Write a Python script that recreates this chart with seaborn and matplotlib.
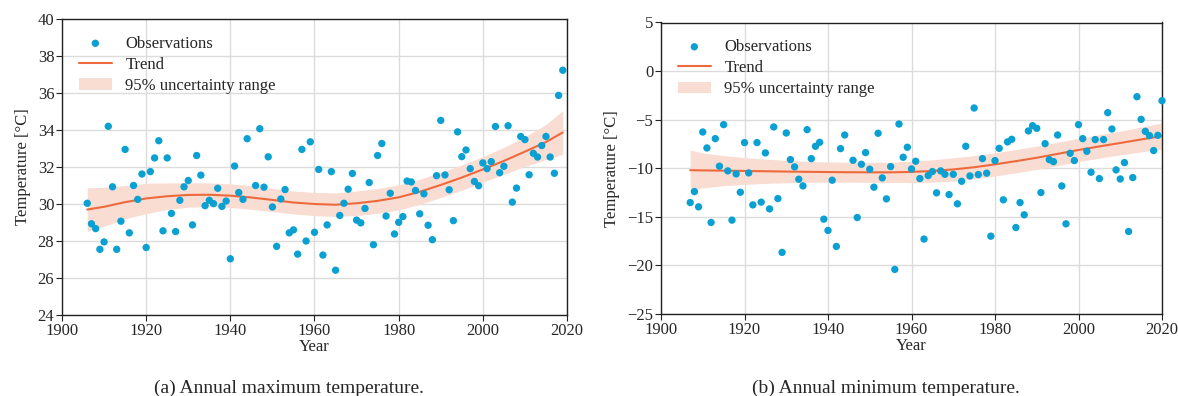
import numpy as np
import pandas as pd
import matplotlib
matplotlib.use("Agg")
import matplotlib.pyplot as plt
import seaborn as sns

# ---------------- data ----------------
years_max = [1906, 1907, 1908, 1909, 1910, 1911, 1912, 1913, 1914, 1915, 1916, 1917, 1918, 1919,
             1920, 1921, 1922, 1923, 1924, 1925, 1926, 1927, 1928, 1929, 1930, 1931, 1932, 1933,
             1934, 1935, 1936, 1937, 1938, 1939, 1940, 1941, 1942, 1943, 1944, 1946, 1947, 1948,
             1949, 1950, 1951, 1952, 1953, 1954, 1955, 1956, 1957, 1958, 1959, 1960, 1961, 1962,
             1963, 1964, 1965, 1966, 1967, 1968, 1969, 1970, 1971, 1972, 1973, 1974, 1975, 1976,
             1977, 1978, 1979, 1980, 1981, 1982, 1983, 1984, 1985, 1986, 1987, 1988, 1989, 1990,
             1991, 1992, 1993, 1994, 1995, 1996, 1997, 1998, 1999, 2000, 2001, 2002, 2003, 2004,
             2005, 2006, 2007, 2008, 2009, 2010, 2011, 2012, 2013, 2014, 2015, 2016, 2017, 2018,
             2019]
tmax = [30.04, 28.93, 28.67, 27.55, 27.95, 34.20, 30.93, 27.55, 29.07, 32.95, 28.44, 31.00, 30.25, 31.62,
        27.65, 31.75, 32.49, 33.42, 28.55, 32.49, 29.49, 28.51, 30.20, 30.93, 31.27, 28.87, 32.62, 31.56,
        29.91, 30.20, 30.02, 30.85, 29.87, 30.16, 27.04, 32.05, 30.62, 30.25, 33.53, 31.00, 34.07, 30.91,
        32.55, 29.84, 27.71, 30.27, 30.78, 28.44, 28.60, 27.29, 32.95, 28.00, 33.36, 28.47, 31.87, 27.24,
        28.87, 31.75, 26.42, 29.38, 30.04, 30.80, 31.65, 29.13, 28.98, 29.76, 31.16, 27.80, 32.62, 33.27,
        29.35, 30.58, 28.38, 29.01, 29.32, 31.24, 31.19, 30.73, 29.47, 30.55, 28.85, 28.07, 31.53, 34.52,
        31.57, 30.77, 29.10, 33.90, 32.56, 32.92, 31.91, 31.22, 30.99, 32.22, 31.91, 32.29, 34.19, 31.69,
        32.04, 34.23, 30.10, 30.86, 33.65, 33.48, 31.58, 32.74, 32.54, 33.16, 33.65, 32.54, 31.66, 35.87,
        37.23]

trend_years_max = [1906, 1910, 1915, 1920, 1925, 1930, 1935, 1940, 1945, 1950, 1955, 1960,
                   1965, 1970, 1975, 1980, 1985, 1990, 1995, 2000, 2005, 2010, 2015, 2019]
trend_max = [29.70, 29.85, 30.10, 30.30, 30.42, 30.49, 30.50, 30.45, 30.35, 30.22, 30.08, 30.00,
             29.96, 30.04, 30.17, 30.36, 30.66, 31.03, 31.43, 31.87, 32.33, 32.83, 33.35, 33.87]
lower_max = [28.52, 28.80, 29.20, 29.48, 29.70, 29.83, 29.86, 29.81, 29.71, 29.59, 29.46, 29.37,
             29.32, 29.38, 29.50, 29.68, 29.98, 30.35, 30.75, 31.18, 31.60, 32.03, 32.40, 32.69]
upper_max = [30.88, 30.90, 31.00, 31.12, 31.14, 31.15, 31.14, 31.09, 30.99, 30.85, 30.70, 30.63,
             30.60, 30.70, 30.84, 31.04, 31.34, 31.71, 32.11, 32.56, 33.06, 33.63, 34.30, 35.05]

years_min = [1907, 1908, 1909, 1910, 1911, 1912, 1913, 1914, 1915, 1916, 1917, 1918, 1919, 1920,
             1921, 1922, 1923, 1924, 1925, 1926, 1927, 1928, 1929, 1930, 1931, 1932, 1933, 1934,
             1935, 1936, 1937, 1938, 1939, 1940, 1941, 1942, 1943, 1944, 1946, 1947, 1948, 1949,
             1950, 1951, 1952, 1953, 1954, 1955, 1956, 1957, 1958, 1959, 1960, 1961, 1962, 1963,
             1964, 1965, 1966, 1967, 1968, 1969, 1970, 1971, 1972, 1973, 1974, 1975, 1976, 1977,
             1978, 1979, 1980, 1981, 1982, 1983, 1984, 1985, 1986, 1987, 1988, 1989, 1990, 1991,
             1992, 1993, 1994, 1995, 1996, 1997, 1998, 1999, 2000, 2001, 2002, 2003, 2004, 2005,
             2006, 2007, 2008, 2009, 2010, 2011, 2012, 2013, 2014, 2015, 2016, 2017, 2018, 2019,
             2020]
tmin = [-13.53, -12.40, -13.97, -6.27, -7.91, -15.58, -6.95, -9.79, -5.51, -10.27, -15.34, -10.58, -12.47, -7.36,
        -10.48, -13.77, -7.36, -13.49, -8.42, -14.18, -5.75, -13.12, -18.66, -6.37, -9.11, -9.86, -11.13, -11.82,
        -6.03, -9.01, -7.74, -7.33, -15.24, -16.40, -11.23, -18.05, -7.98, -6.58, -9.18, -15.07, -9.59, -8.39,
        -10.10, -11.95, -6.40, -10.99, -13.15, -9.83, -20.41, -5.45, -8.87, -7.84, -10.07, -9.28, -11.06, -17.29,
        -10.75, -10.34, -12.53, -10.27, -10.62, -12.71, -10.62, -13.66, -11.34, -7.74, -10.79, -3.80, -10.65, -9.01,
        -10.51, -16.99, -9.21, -7.95, -13.25, -7.29, -7.02, -16.10, -13.53, -14.79, -6.16, -5.62, -5.89, -12.50,
        -7.47, -9.11, -9.32, -6.58, -11.82, -15.72, -8.46, -9.21, -5.51, -6.95, -8.25, -10.41, -7.05, -11.06,
        -7.05, -4.28, -5.96, -10.17, -11.10, -9.42, -16.51, -10.96, -2.64, -4.97, -6.20, -6.64, -8.18, -6.61,
        -3.05]

trend_years_min = [1907, 1910, 1915, 1920, 1925, 1930, 1935, 1940, 1945, 1950, 1955, 1960,
                   1965, 1970, 1975, 1980, 1985, 1990, 1995, 2000, 2005, 2010, 2015, 2020]
trend_min = [-10.20, -10.22, -10.25, -10.28, -10.31, -10.34, -10.37, -10.39, -10.41, -10.42, -10.42, -10.38,
             -10.28, -10.12, -9.90, -9.60, -9.27, -8.92, -8.52, -8.12, -7.75, -7.40, -7.04, -6.68]
lower_min = [-12.27, -12.02, -11.80, -11.66, -11.56, -11.49, -11.45, -11.43, -11.44, -11.45, -11.46, -11.48,
             -11.43, -11.32, -11.10, -10.80, -10.47, -10.12, -9.72, -9.32, -8.96, -8.62, -8.32, -8.03]
upper_min = [-8.13, -8.42, -8.70, -8.90, -9.06, -9.19, -9.29, -9.35, -9.38, -9.39, -9.38, -9.28,
             -9.13, -8.92, -8.70, -8.40, -8.07, -7.72, -7.32, -6.92, -6.54, -6.18, -5.76, -5.33]

x_ticks = [1900, 1920, 1940, 1960, 1980, 2000, 2020]
y_ticks_max = [24, 26, 28, 30, 32, 34, 36, 38, 40]
y_ticks_min = [-25, -20, -15, -10, -5, 0, 5]

# ---------------- style ----------------
sns.set_theme(style="ticks")
plt.rcParams["font.family"] = ["Liberation Serif", "DejaVu Serif"]
plt.rcParams["font.size"] = 12
plt.rcParams["mathtext.fontset"] = "dejavuserif"

DOT = "#0aa0d2"
LINE = "#ee6a3c"
BAND = "#f9ddd3"

fig = plt.figure(figsize=(11.78, 3.96), dpi=100)
ax1 = fig.add_axes([62 / 1178, 1 - 315 / 396, 505 / 1178, 296 / 396])
ax2 = fig.add_axes([661 / 1178, 1 - 314 / 396, 501 / 1178, 291.5 / 396])


def draw(ax, yrs, obs, tyrs, trend, lo, hi, yticks, ylim):
    df = pd.DataFrame({"Year": yrs, "T": obs})
    tdf = pd.DataFrame({"Year": tyrs, "T": trend})
    ax.grid(True, color="#dcdcdc", linewidth=1.0, zorder=0)
    ax.set_axisbelow(True)
    ax.fill_between(tyrs, lo, hi, color=BAND, linewidth=0, zorder=1,
                    label="95% uncertainty range")
    sns.lineplot(data=tdf, x="Year", y="T", ax=ax, color=LINE, linewidth=1.5,
                 zorder=2, label="Trend")
    sns.scatterplot(data=df, x="Year", y="T", ax=ax, color=DOT, s=28,
                    edgecolor="none", zorder=3, label="Observations", clip_on=False)
    ax.set_xlim(1900, 2020)
    ax.set_ylim(*ylim)
    ax.set_xticks(x_ticks)
    ax.set_yticks(yticks)
    ax.set_xlabel("Year", fontsize=12, labelpad=0)
    ax.set_ylabel("Temperature [°C]", fontsize=12, labelpad=5)
    ax.tick_params(axis="both", direction="out", length=4, width=0.8,
                   labelsize=12, pad=1.5, color="#222222")
    for sp in ax.spines.values():
        sp.set_visible(True)
        sp.set_color("#222222")
        sp.set_linewidth(1.0)
    h, l = ax.get_legend_handles_labels()
    order = [l.index("Observations"), l.index("Trend"), l.index("95% uncertainty range")]
    ax.legend([h[i] for i in order], [l[i] for i in order], loc="upper left",
              frameon=False, fontsize=12, handlelength=2.0, handletextpad=0.8,
              labelspacing=0.3, borderaxespad=0.6, markerscale=1.0)


draw(ax1, years_max, tmax, trend_years_max, trend_max, lower_max, upper_max,
     y_ticks_max, (24, 40))
draw(ax2, years_min, tmin, trend_years_min, trend_min, lower_min, upper_min,
     y_ticks_min, (-25, 5))

fig.text(289 / 1178, 1 - 388 / 396, "(a) Annual maximum temperature.",
         ha="center", va="center", fontsize=14)
fig.text(886 / 1178, 1 - 388 / 396, "(b) Annual minimum temperature.",
         ha="center", va="center", fontsize=14)

fig.savefig("out.png", dpi=100)
